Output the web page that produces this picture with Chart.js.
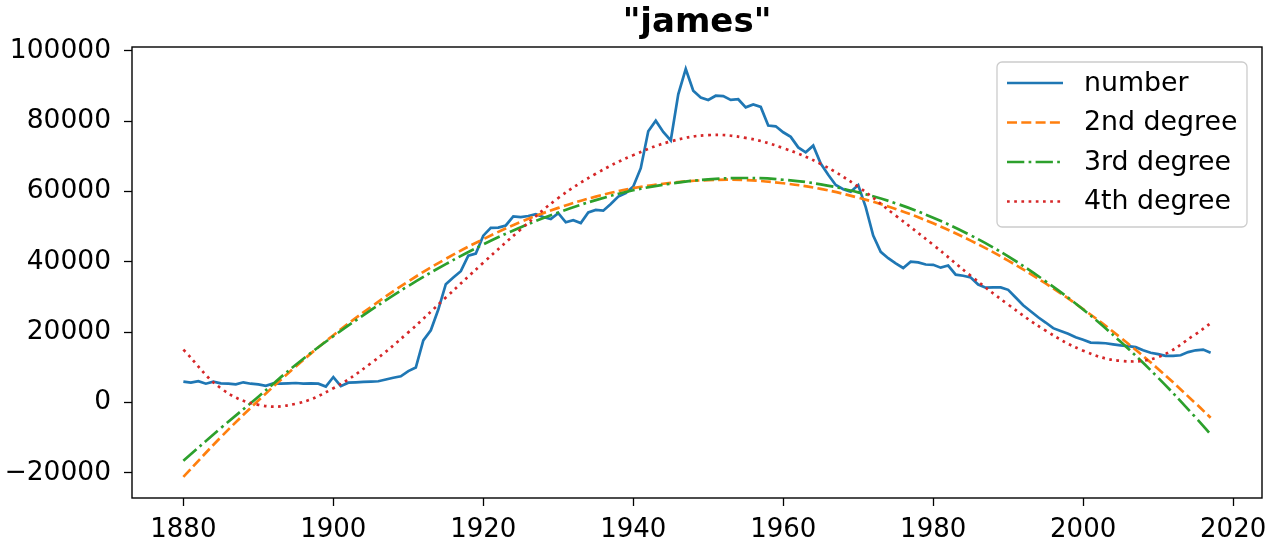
<!DOCTYPE html>
<html>
<head>
<meta charset="utf-8">
<script src="https://cdn.jsdelivr.net/npm/chart.js@4.4.1/dist/chart.umd.min.js"></script>
<style>
  html, body { margin: 0; padding: 0; background: #fff; }
  #wrap { width: 1278px; height: 548px; }
</style>
</head>
<body>
<div id="wrap"><canvas id="chart" width="1278" height="548"></canvas></div>
<script>
// yearly counts, 1880 .. 2017
const startYear = 1880;
const numberValues = [
  5900, 5600, 6000, 5300, 5900, 5400, 5300, 5100, 5700, 5300,
  5100, 4700, 5400, 5300, 5400, 5500, 5300, 5400, 5300, 4500,
  7200, 4600, 5600, 5700, 5800, 5900, 6000, 6500, 7000, 7400,
  8900, 9900, 17600, 20500, 26400, 33600, 35500, 37300, 41700, 42300,
  47400, 49600, 49700, 50300, 52900, 52700, 53000, 53500, 52700, 52100,
  53800, 51200, 51800, 51000, 54000, 54700, 54500, 56400, 58500, 59500,
  61400, 66600, 77100, 80100, 76900, 74500, 87600, 94800, 88600, 86700,
  86000, 87200, 87100, 86000, 86200, 83900, 84700, 84000, 78700, 78500,
  76800, 75500, 72500, 71100, 73000, 67900, 64700, 61800, 60600, 59900,
  61800, 55500, 47400, 42800, 41000, 39500, 38200, 40000, 39800, 39200,
  39100, 38300, 38900, 36300, 36000, 35500, 33500, 32600, 32700, 32700,
  32000, 29800, 27600, 25900, 24200, 22700, 21100, 20300, 19500, 18500,
  17800, 17000, 16900, 16800, 16500, 16200, 16000, 15700, 14800, 14100,
  13700, 13200, 13200, 13400, 14300, 14800, 15000, 14100
];

const fitYears = [1880, 1885, 1890, 1895, 1900, 1905, 1910, 1915, 1920, 1925,
  1930, 1935, 1940, 1945, 1950, 1955, 1960, 1965, 1970, 1975,
  1980, 1985, 1990, 1995, 2000, 2005, 2010, 2015, 2017];
const deg2Values = [-21200, -9900, 500, 10200, 19100, 27100, 34400, 40800, 46400, 51300,
  55300, 58500, 60900, 62400, 63200, 63200, 62300, 60700, 58200, 55000,
  50900, 46000, 40300, 33800, 26500, 18400, 9500, -300, -4400];
const deg3Values = [-16600, -7300, 1600, 10700, 18800, 26200, 33100, 39300, 44900, 49800,
  54000, 57500, 60300, 62200, 63400, 63800, 63300, 62000, 59700, 56600,
  52500, 47500, 41500, 34400, 26400, 17200, 7000, -4300, -9100];
const deg4Values = [15000, 4000, -700, -400, 4000, 11100, 19900, 29800, 39700, 49200,
  58100, 65000, 70300, 74200, 76000, 75200, 72300, 67800, 61300, 53100,
  44800, 36000, 27800, 20400, 14700, 11800, 12900, 19400, 22500];

const xTicks = [1880, 1900, 1920, 1940, 1960, 1980, 2000, 2020];
const yTicks = [-20000, 0, 20000, 40000, 60000, 80000, 100000];
const seriesNames = ["number", "2nd degree", "3rd degree", "4th degree"];
const titleText = '"james"';

const lw = 2.7;
const fontFam = "'DejaVu Sans', sans-serif";

function pts(xs, ys) {
  return ys.map((v, i) => ({ x: xs[i], y: v }));
}
const numberYears = numberValues.map((v, i) => startYear + i);

Chart.defaults.color = "#000";
Chart.defaults.font.family = fontFam;

// box around plot, title over the plot, legend in the upper right
const framePlugin = {
  id: "frame",
  afterDraw(chart) {
    const ctx = chart.ctx;
    const a = chart.chartArea;
    ctx.save();
    ctx.strokeStyle = "#000";
    ctx.lineWidth = 1.4;
    ctx.strokeRect(a.left, a.top, a.right - a.left, a.bottom - a.top);

    ctx.fillStyle = "#000";
    ctx.font = "bold 34px " + fontFam;
    ctx.textAlign = "center";
    ctx.textBaseline = "middle";
    ctx.fillText(titleText, (a.left + a.right) / 2, 23);

    // legend
    const bx = 997, by = 62, bw = 250, bh = 165, r = 5;
    ctx.beginPath();
    ctx.moveTo(bx + r, by);
    ctx.arcTo(bx + bw, by, bx + bw, by + bh, r);
    ctx.arcTo(bx + bw, by + bh, bx, by + bh, r);
    ctx.arcTo(bx, by + bh, bx, by, r);
    ctx.arcTo(bx, by, bx + bw, by, r);
    ctx.closePath();
    ctx.fillStyle = "rgba(255,255,255,0.8)";
    ctx.fill();
    ctx.strokeStyle = "#cccccc";
    ctx.lineWidth = 1.3;
    ctx.stroke();

    ctx.font = "26.8px " + fontFam;
    ctx.textBaseline = "middle";
    ctx.textAlign = "left";
    chart.data.datasets.forEach((ds, i) => {
      const y = 83 + i * 39.5;
      ctx.beginPath();
      ctx.setLineDash(ds.borderDash || []);
      ctx.strokeStyle = ds.borderColor;
      ctx.lineWidth = lw;
      ctx.moveTo(1007, y);
      ctx.lineTo(1063, y);
      ctx.stroke();
      ctx.setLineDash([]);
      ctx.fillStyle = "#000";
      ctx.fillText(ds.label, 1084, y + 1);
    });
    ctx.restore();
  }
};

const fitLine = { pointRadius: 0, borderWidth: lw, tension: 0.4 };

const ctx = document.getElementById("chart").getContext("2d");
new Chart(ctx, {
  type: "line",
  data: {
    datasets: [
      {
        label: seriesNames[0],
        data: pts(numberYears, numberValues),
        borderColor: "#1f77b4",
        borderWidth: lw,
        pointRadius: 0,
        tension: 0,
        order: 3
      },
      Object.assign({
        label: seriesNames[1],
        data: pts(fitYears, deg2Values),
        borderColor: "#ff7f0e",
        borderDash: [10, 4.3],
        order: 2
      }, fitLine),
      Object.assign({
        label: seriesNames[2],
        data: pts(fitYears, deg3Values),
        borderColor: "#2ca02c",
        borderDash: [17.3, 4.3, 2.7, 4.3],
        order: 1
      }, fitLine),
      Object.assign({
        label: seriesNames[3],
        data: pts(fitYears, deg4Values),
        borderColor: "#d62728",
        borderDash: [2.7, 4.5],
        order: 0
      }, fitLine)
    ]
  },
  options: {
    responsive: false,
    animation: false,
    devicePixelRatio: 1,
    layout: { padding: { left: 0, right: 16, top: 47, bottom: 0 } },
    plugins: {
      legend: { display: false },
      tooltip: { enabled: false },
      title: { display: false }
    },
    scales: {
      x: {
        type: "linear",
        min: 1873.15,
        max: 2023.85,
        afterBuildTicks: s => { s.ticks = xTicks.map(v => ({ value: v })); },
        afterFit: s => { s.height = 50; },
        grid: {
          display: true,
          drawOnChartArea: false,
          drawTicks: true,
          tickLength: 8,
          tickColor: "#000",
          tickWidth: 1.3
        },
        border: { display: false },
        ticks: {
          font: { size: 26 },
          padding: 9,
          maxRotation: 0,
          autoSkip: false,
          callback: v => String(v)
        }
      },
      y: {
        type: "linear",
        min: -27200,
        max: 101050,
        afterBuildTicks: s => { s.ticks = yTicks.map(v => ({ value: v })); },
        afterFit: s => { s.width = 132; },
        grid: {
          display: true,
          drawOnChartArea: false,
          drawTicks: true,
          tickLength: 8,
          tickColor: "#000",
          tickWidth: 1.3
        },
        border: { display: false },
        ticks: {
          font: { size: 26.5 },
          padding: 13,
          autoSkip: false,
          callback: v => (v < 0 ? "\u2212" + Math.abs(v) : String(v))
        }
      }
    }
  },
  plugins: [framePlugin]
});
</script>
</body>
</html>
